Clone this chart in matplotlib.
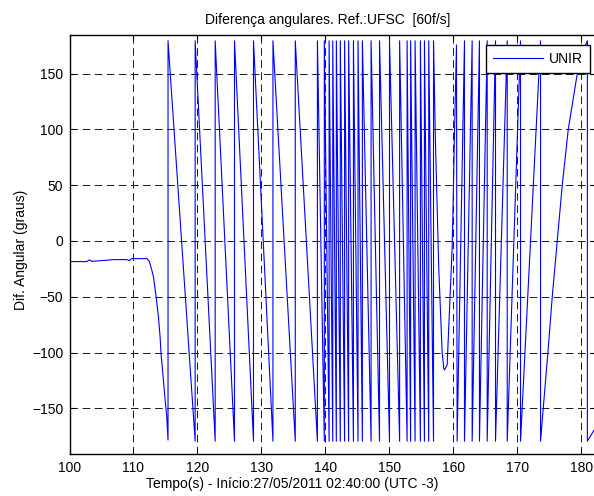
import matplotlib
matplotlib.use("Agg")
import matplotlib.pyplot as plt
from matplotlib.ticker import MultipleLocator

plt.rcParams["font.family"] = ["Liberation Sans", "DejaVu Sans"]
plt.rcParams["lines.scale_dashes"] = False

# ---- data (seconds, degrees) ----
# steady period before the slip, and the first descent
pre_t = [100.0, 101.5, 102.7, 103.1, 103.5, 105.0, 106.9, 109.0, 109.3, 109.7,
         112.1, 112.5, 112.86, 113.12, 113.54, 113.9, 114.16, 114.3, 114.68,
         114.95, 115.2, 115.4]
pre_a = [-18.5, -18.4, -18.5, -17.0, -18.2, -17.6, -16.7, -16.7, -17.6, -15.8,
         -15.8, -18.5, -26.0, -32.0, -50.0, -68.0, -86.0, -100.7, -124.6,
         -142.6, -157.5, -178.5]

# instants where the falling sawtooth wraps from -180 back to +180
fall_wraps = [115.4, 119.64, 122.77, 125.79, 128.76, 131.80, 135.29, 138.75,
              139.83, 140.58, 141.15, 141.71, 142.33, 143.00, 143.63, 144.38,
              145.10, 145.78, 147.14, 148.46, 150.02, 151.60, 152.77, 153.32,
              154.02, 154.85, 155.48, 156.15, 156.90]

# reversal of the slip direction
turn_t = [157.2, 157.72, 158.24, 158.5, 158.61, 159.03, 159.81, 159.96,
          160.17, 160.49]
turn_a = [89.0, -24.5, -99.0, -114.0, -115.7, -111.0, -6.6, 32.0, 95.0, 175.7]

# instants where the rising sawtooth wraps from +180 to -180
rise_wraps = [160.59, 161.74, 162.94, 164.08, 165.29, 166.59, 168.42,
              170.50, 173.63]

# last slow ramp and the end of the record
ramp_t = [174.05, 174.78, 175.46, 176.24, 177.02, 177.96, 179.37, 180.2, 180.95]
ramp_a = [-150.0, -100.0, -50.0, 0.0, 50.0, 100.0, 150.0, 170.0, 179.5]
tail_t = [180.95, 182.0, 182.3]
tail_a = [-179.5, -169.5, -166.0]

top, bottom = 179.5, -179.5

# assemble the wrapped angle trace
t = list(pre_t)
a = list(pre_a)
for t0, t1 in zip(fall_wraps[:-1], fall_wraps[1:]):
    t += [t0, t1]
    a += [top, bottom]
t.append(fall_wraps[-1])
a.append(top)
t += turn_t
a += turn_a
for t0, t1 in zip(rise_wraps[:-1], rise_wraps[1:]):
    t += [t0, t1]
    a += [bottom, top]
t.append(rise_wraps[-1])
a.append(bottom)
t += ramp_t
a += ramp_a
t += tail_t
a += tail_a

# ---- figure ----
W, H = 594, 496
fig = plt.figure(figsize=(W / 100, H / 100), dpi=100)
x_left, x_right = 69.5, 595.0
y_top, y_bot = 35.0, 454.3
ax = fig.add_axes([x_left / W, 1 - y_bot / H, (x_right - x_left) / W,
                   (y_bot - y_top) / H])

px_per_s = 6.3975
ax.plot(t, a, color=(0, 0, 1), linewidth=0.8, label="UNIR")

ax.set_xlim(100, 100 + (x_right - x_left) / px_per_s)
ax.set_ylim(-191.25, 184.7)
ax.xaxis.set_major_locator(MultipleLocator(10))
ax.yaxis.set_major_locator(MultipleLocator(50))

ax.grid(True, color="0.1", linestyle=(0, (5.5, 3.2)), linewidth=0.7)
ax.tick_params(direction="in", top=True, right=True, length=3.5, width=0.8,
               labelsize=10, pad=4.5, colors="k")
for s in ax.spines.values():
    s.set_linewidth(1.0)
    s.set_color("k")

fig.text(328 / W, 1 - 20 / H, "Diferença angulares. Ref.:UFSC  [60f/s]",
         ha="center", va="center", fontsize=10)
fig.text(292 / W, 1 - 484 / H, "Tempo(s) - Início:27/05/2011 02:40:00 (UTC -3)",
         ha="center", va="center", fontsize=10)
fig.text(21 / W, 1 - 250 / H, "Dif. Angular (graus)", rotation=90,
         ha="center", va="center", fontsize=10)

leg = ax.legend(loc="upper right", bbox_to_anchor=(590 / W, 1 - 45 / H),
                bbox_transform=fig.transFigure, borderaxespad=0,
                fancybox=False, framealpha=1, edgecolor="k", fontsize=10,
                handlelength=3.6, handletextpad=0.45, borderpad=0.5)
leg.get_frame().set_linewidth(1.0)

fig.savefig("out.png", dpi=100)
